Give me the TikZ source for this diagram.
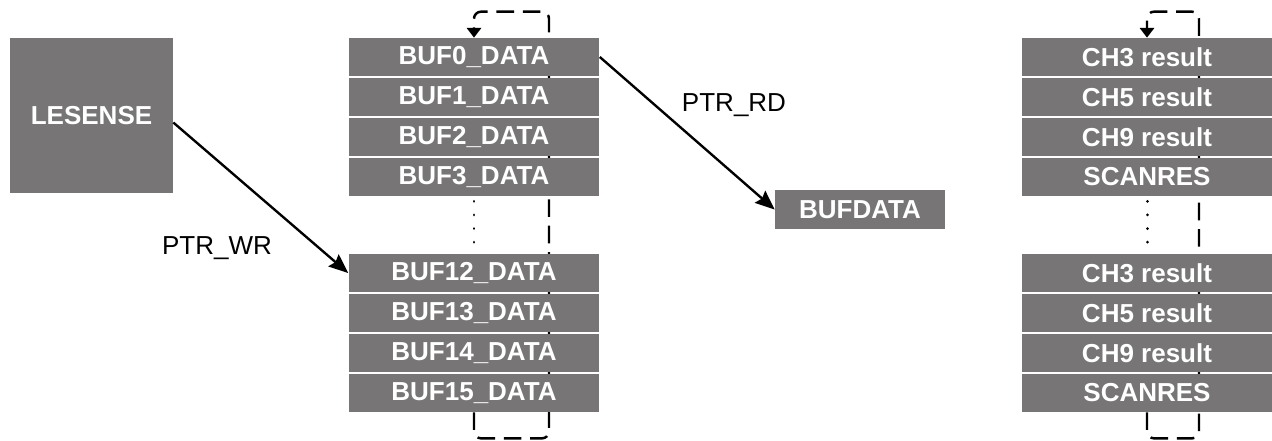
\documentclass[tikz,border=0pt]{standalone}
\usepackage{fontspec}
\setmainfont{Liberation Sans}
\usepackage{tikz}
\usetikzlibrary{arrows.meta,calc,backgrounds}
\definecolor{regfill}{RGB}{119,117,118}

\begin{document}
\begin{tikzpicture}[
  x=0.02cm, y=-0.02cm,
  every node/.style={font=\fontsize{14.8}{17}\selectfont},
  regbox/.style={fill=regfill, text=white, inner sep=0pt,
                 minimum width=5.02cm, minimum height=0.76cm,
                 font=\fontsize{14.8}{17}\selectfont\bfseries},
  ptrarrow/.style={line width=1.35pt, -{Stealth[length=11pt, width=9pt, inset=1.5pt]}},
  ringline/.style={line width=1.4pt, dash pattern=on 10pt off 5pt,
                   rounded corners=4pt, -{Triangle[length=5.5pt, width=8pt]}},
  dotline/.style={line width=1.7pt, line cap=round, dash pattern=on 0.01pt off 7.75pt,
                  shorten <=2.8pt, shorten >=5pt},
]
\useasboundingbox (0,0) rectangle (1272,440);

%% Source block
\node[regbox, minimum width=3.26cm, minimum height=3.1cm] (lesense) at (91.5,115.5) {LESENSE};

%% Buffer registers (left column)
\foreach \n in {0,...,3}{
  \node[regbox] (buf\n) at (474, 57+40*\n) {BUF\n\_DATA};
}
\foreach \n/\k in {12/0, 13/1, 14/2, 15/3}{
  \node[regbox] (buf\n) at (474, 273+40*\k) {BUF\n\_DATA};
}
\draw[dotline] (buf3.south) -- (buf12.north);

%% Read register
\node[regbox, minimum width=3.4cm, minimum height=0.78cm] (bufdata) at (860,209.5) {BUFDATA};

%% Write / read pointers
\draw[ptrarrow] ([yshift=-4pt]lesense.east) -- (buf12.west);
\node (ptrwr) at (217,248) {PTR\_WR};
\draw[ptrarrow] (buf0.east) -- (bufdata.west);
\node (ptrrd) at (734,105) {PTR\_RD};

%% Result buffer (right column)
\foreach \lab [count=\k from 0] in {CH3 result, CH5 result, CH9 result, SCANRES}{
  \node[regbox] (resa\k) at (1147, 57+40*\k) {\lab};
  \node[regbox] (resb\k) at (1147, 273+40*\k) {\lab};
}
\draw[dotline] (resa3.south) -- (resb0.north);

%% Wrap-around loops, behind the registers
\begin{scope}[on background layer]
  \draw[ringline] (buf15.south) -- ++(0,26) -- ++(75,0)
    |- ($(buf0.north)+(0,-26)$) -- (buf0.north);
  \draw[ringline] (resb3.south) -- ++(0,26) -- ++(52,0)
    |- ($(resa0.north)+(0,-26)$) -- (resa0.north);
\end{scope}

\end{tikzpicture}
\end{document}
